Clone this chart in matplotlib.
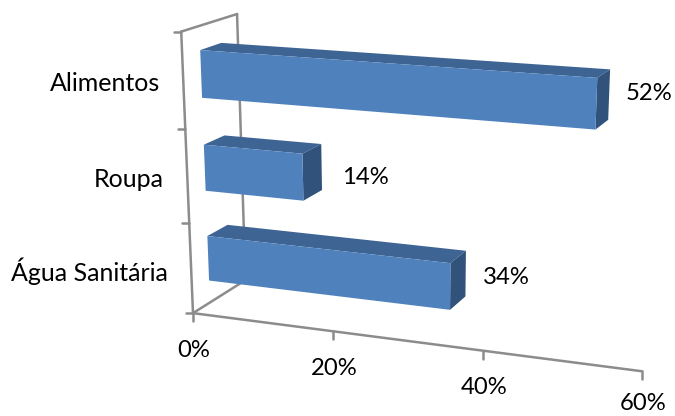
import numpy as np
import matplotlib
matplotlib.use("Agg")
import matplotlib.pyplot as plt
from matplotlib.patches import Polygon

plt.rcParams['font.family'] = ['Lato', 'DejaVu Sans']

# data, bottom to top like the chart
categories = ["Água Sanitária", "Roupa", "Alimentos"]
values = [0.34, 0.14, 0.52]
value_labels = ["34%", "14%", "52%"]
ticks = [0.0, 0.2, 0.4, 0.6]
tick_labels = ["0%", "20%", "40%", "60%"]

# camera: chart frame (value, category, depth) -> picture pixel, used to fit the perspective
frame_3d = [(0, 0, 0), (.2, 0, 0), (.4, 0, 0), (.6, 0, 0),
            (0, 1, 0), (0, 2, 0), (0, 3, 0),
            (0, 3, 1), (0, 2, 1), (0, 1, 1), (0, 0, 1)]
frame_px = [(193.5, 313), (333.5, 332), (482.3, 350.7), (642.3, 371),
            (189.4, 222), (185, 129), (180.7, 31.7),
            (237.7, 14.3), (240, 105), (242.5, 195), (245, 280)]

rows = []
for (v, c, d), (px, py) in zip(frame_3d, frame_px):
    rows.append([v, c, d, 1, 0, 0, 0, 0, -px*v, -px*c, -px*d])
    rows.append([0, 0, 0, 0, v, c, d, 1, -py*v, -py*c, -py*d])
rhs = np.array(frame_px).ravel()
m = np.linalg.lstsq(np.array(rows, float), rhs, rcond=None)[0]
P = np.append(m, 1).reshape(3, 4)


def proj(v, c, d=0):
    x, y, w = P @ np.array([v, c, d, 1])
    return x / w, y / w


fig = plt.figure(figsize=(6.75, 4.16), dpi=100)
ax = fig.add_axes([0, 0, 1, 1])
ax.set_xlim(0, 675)
ax.set_ylim(416, 0)
ax.axis("off")

grey = "#8c8c8c"
fsize = 17.2


def line(a, b):
    ax.plot(*zip(a, b), color=grey, lw=1.8, solid_capstyle="round", zorder=1)


# walls and axes
line(proj(0, 0), proj(.6, 0))
line(proj(0, 0), proj(0, 3))
line(proj(0, 3), proj(0, 3, 1))
line(proj(0, 3, 1), proj(0, 0, 1))
line(proj(0, 0), proj(0, 0, 1))
for t, lab in zip(ticks, tick_labels):
    x, y = proj(t, 0)
    line((x, y), (x, y + 8))
    ax.text(x + 1, min(y + 37, 403), lab, ha="center", va="center", fontsize=fsize, color="black")
for c in range(4):
    x, y = proj(0, c)
    line((x, y), (x - 7, y))

# bars
front = "#4f81bd"
top = "#3e6494"
side = "#31527b"
d0, d1 = 0.31, 0.69
label_dx = [17, 20, 16]
label_dy = [2, 8, -3]
for i, (name, val, lab) in enumerate(zip(categories, values, value_labels)):
    c0, c1 = i + 0.25, i + 0.75
    ax.add_patch(Polygon([proj(0, c1, d0), proj(0, c1, d1), proj(val, c1, d1), proj(val, c1, d0)],
                         fc=top, ec="none", zorder=3))
    ax.add_patch(Polygon([proj(val, c0, d0), proj(val, c0, d1), proj(val, c1, d1), proj(val, c1, d0)],
                         fc=side, ec="none", zorder=3))
    ax.add_patch(Polygon([proj(0, c0, d0), proj(val, c0, d0), proj(val, c1, d0), proj(0, c1, d0)],
                         fc=front, ec="none", zorder=4))
    x, y = proj(val, i + 0.5, d1)
    ax.text(x + label_dx[i], y + 2 + label_dy[i], lab, ha="left", va="center", fontsize=fsize, color="black")
    x, y = proj(0, i + 0.5)
    ax.text(x - 23.5, y + 3, name, ha="right", va="center", fontsize=18, color="black")

fig.savefig("out.png", dpi=100)
